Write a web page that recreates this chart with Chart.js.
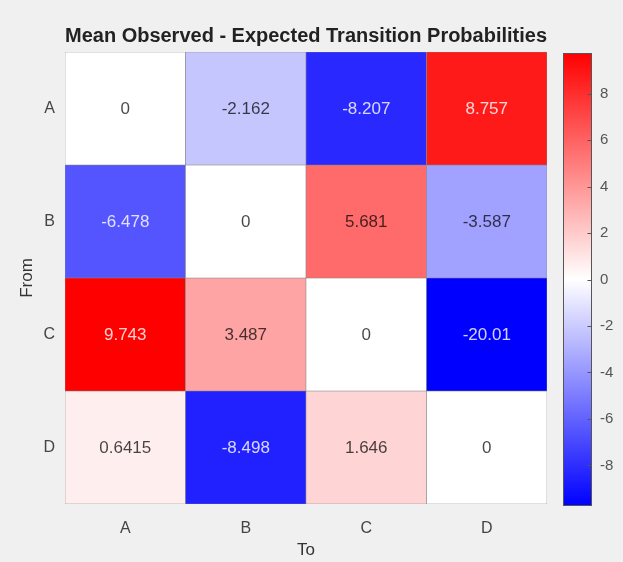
<!DOCTYPE html>
<html>
<head>
<meta charset="utf-8">
<title>Mean Observed - Expected Transition Probabilities</title>
<script src="https://cdn.jsdelivr.net/npm/chart.js@4.4.1/dist/chart.umd.min.js"></script>
<style>
  html, body { margin: 0; padding: 0; background: #f0f0f0; }
  #wrap { position: relative; width: 623px; height: 562px; background: #f0f0f0; }
  #heat { position: absolute; left: 0; top: 0; }
  #cbar { position: absolute; left: 555px; top: 0; }
</style>
</head>
<body>
<div id="wrap">
  <canvas id="heat" width="623" height="562"></canvas>
  <canvas id="cbar" width="68" height="562"></canvas>
</div>
<script>
// States (rows = "From", columns = "To")
const fromStates = ['A', 'B', 'C', 'D'];
const toStates = ['A', 'B', 'C', 'D'];

// Mean observed minus expected transition probabilities, one row per origin state
const fromA = [0, -2.162, -8.207, 8.757];
const fromB = [-6.478, 0, 5.681, -3.587];
const fromC = [9.743, 3.487, 0, -20.01];
const fromD = [0.6415, -8.498, 1.646, 0];
const matrix = [fromA, fromB, fromC, fromD];

// Colour limits and colourbar ticks
const colorLimit = 9.743;
const colorbarTicks = [-8, -6, -4, -2, 0, 2, 4, 6, 8];

const FONT = "'Liberation Sans', Arial, Helvetica, sans-serif";

// Diverging blue - white - red colour map
function cellColor(v) {
  const t = Math.min(Math.abs(v) / colorLimit, 1);
  const c = Math.round(255 * (1 - t));
  return v < 0 ? `rgb(${c},${c},255)` : `rgb(255,${c},${c})`;
}

function formatValue(v) {
  return String(parseFloat(v.toPrecision(4)));
}

// Writes each cell's value at its centre
const cellLabels = {
  id: 'cellLabels',
  afterDatasetsDraw(chart) {
    const ctx = chart.ctx;
    ctx.save();
    ctx.font = `17px ${FONT}`;
    ctx.textAlign = 'center';
    ctx.textBaseline = 'middle';
    chart.data.datasets.forEach((ds, i) => {
      const meta = chart.getDatasetMeta(i);
      meta.data.forEach((bar, j) => {
        const v = ds.values[j];
        const p = bar.getCenterPoint();
        const strong = Math.abs(v) / colorLimit > 0.6;
        ctx.fillStyle = strong ? 'rgba(255,255,255,0.82)' : 'rgba(0,0,0,0.72)';
        ctx.fillText(formatValue(v), p.x, p.y + 1);
      });
    });
    ctx.restore();
  }
};

new Chart(document.getElementById('heat'), {
  type: 'bar',
  data: {
    labels: toStates,
    datasets: fromStates.map((name, i) => ({
      label: name,
      values: matrix[i],
      data: matrix[i].map(() => [i - 0.5, i + 0.5]),
      backgroundColor: matrix[i].map(cellColor),
      borderColor: '#858585',
      borderWidth: 0.6,
      borderSkipped: false,
      grouped: false,
      barPercentage: 1,
      categoryPercentage: 1
    }))
  },
  options: {
    responsive: false,
    animation: false,
    devicePixelRatio: 1,
    layout: { padding: { left: 0, right: 76, top: 0, bottom: 0 } },
    plugins: {
      legend: { display: false },
      tooltip: { enabled: false },
      title: {
        display: true,
        fullSize: false,
        text: 'Mean Observed - Expected Transition Probabilities',
        color: '#222',
        font: { family: FONT, size: 20, weight: 'bold' },
        padding: { top: 24, bottom: 4 }
      }
    },
    scales: {
      x: {
        type: 'category',
        afterFit(scale) { scale.height = 58; },
        grid: { display: false, drawTicks: false },
        border: { display: false },
        ticks: { color: '#444', font: { family: FONT, size: 16 }, padding: 15 },
        title: {
          display: true, text: 'To', color: '#333',
          font: { family: FONT, size: 17 }, padding: { top: 4, bottom: 1 }
        }
      },
      y: {
        type: 'linear',
        reverse: true,
        min: -0.5,
        max: fromStates.length - 0.5,
        afterBuildTicks(scale) {
          scale.ticks = fromStates.map((_, i) => ({ value: i }));
        },
        afterFit(scale) { scale.width = 65; },
        grid: { display: false, drawTicks: false },
        border: { display: false },
        ticks: {
          color: '#444', font: { family: FONT, size: 16 }, padding: 10,
          callback: (value) => fromStates[value]
        },
        title: {
          display: true, text: 'From', color: '#333',
          font: { family: FONT, size: 17 }, padding: { top: 17, bottom: 0 }
        }
      }
    }
  },
  plugins: [cellLabels]
});

// Colourbar outline and small inward tick marks on its right edge
const colorbarFrame = {
  id: 'colorbarFrame',
  afterDatasetsDraw(chart) {
    const { ctx, scales } = chart;
    const bar = chart.getDatasetMeta(0).data[0];
    const { x, y, base, width } = bar.getProps(['x', 'y', 'base', 'width'], true);
    const left = Math.round(x - width / 2) + 0.5;
    const right = Math.round(x + width / 2) - 0.5;
    const top = Math.round(Math.min(y, base)) + 0.5;
    const bottom = Math.round(Math.max(y, base)) - 0.5;
    ctx.save();
    ctx.strokeStyle = '#555';
    ctx.lineWidth = 1;
    ctx.strokeRect(left, top, right - left, bottom - top);
    colorbarTicks.forEach((t) => {
      const ty = Math.round(scales.y.getPixelForValue(t)) + 0.5;
      ctx.beginPath();
      ctx.moveTo(right - 4, ty);
      ctx.lineTo(right, ty);
      ctx.stroke();
    });
    ctx.restore();
  }
};

// Colourbar: one floating bar spanning the colour limits, filled with the map
new Chart(document.getElementById('cbar'), {
  type: 'bar',
  data: {
    labels: [''],
    datasets: [{
      data: [[-colorLimit, colorLimit]],
      backgroundColor(context) {
        const { chart } = context;
        const { ctx, chartArea, scales } = chart;
        if (!chartArea) return '#fff';
        const y0 = scales.y.getPixelForValue(-colorLimit);
        const y1 = scales.y.getPixelForValue(colorLimit);
        const g = ctx.createLinearGradient(0, y0, 0, y1);
        g.addColorStop(0, cellColor(-colorLimit));
        g.addColorStop(0.5, cellColor(0));
        g.addColorStop(1, cellColor(colorLimit));
        return g;
      },
      borderWidth: 0,
      barPercentage: 1,
      categoryPercentage: 1
    }]
  },
  options: {
    responsive: false,
    animation: false,
    devicePixelRatio: 1,
    layout: { padding: { left: 8, right: 0, top: 53, bottom: 56 } },
    plugins: { legend: { display: false }, tooltip: { enabled: false } },
    scales: {
      x: { display: false },
      y: {
        position: 'right',
        min: -colorLimit,
        max: colorLimit,
        afterBuildTicks(scale) {
          scale.ticks = colorbarTicks.map((v) => ({ value: v }));
        },
        afterFit(scale) { scale.width = 31; },
        grid: { display: false, drawTicks: false },
        border: { display: false },
        ticks: { color: '#555', font: { family: FONT, size: 15 }, padding: 8 }
      }
    }
  },
  plugins: [colorbarFrame]
});
</script>
</body>
</html>
